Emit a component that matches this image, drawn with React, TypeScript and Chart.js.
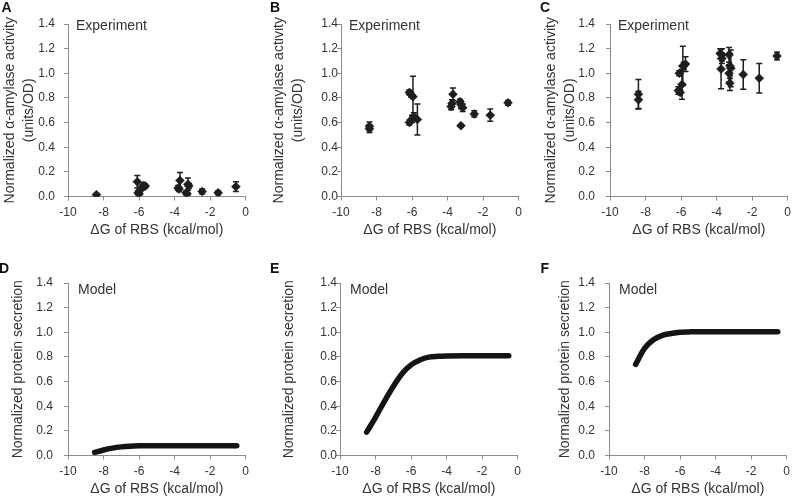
import React, { useEffect, useRef } from "react";
import { Chart, registerables } from "chart.js";

Chart.register(...registerables);

// ---------- data ----------
const xTicks = [-10, -8, -6, -4, -2, 0];
const yTicks = [0, 0.2, 0.4, 0.6, 0.8, 1.0, 1.2, 1.4];

// Panel A (experiment)
const aX = [-8.4, -6.1, -6.05, -6.0, -5.95, -5.85, -5.75, -5.65, -3.8, -3.75, -3.7, -3.35, -3.3, -3.25, -3.2, -2.45, -1.55, -0.55];
const aY = [0.015, 0.12, 0.03, 0.02, 0.05, 0.07, 0.09, 0.085, 0.07, 0.06, 0.13, 0.03, 0.02, 0.1, 0.085, 0.04, 0.03, 0.08];
const aErr = [0.01, 0.05, 0.015, 0.01, 0.02, 0.02, 0.02, 0.015, 0.02, 0.02, 0.065, 0.015, 0.01, 0.05, 0.02, 0.02, 0.015, 0.04];

// Panel B (experiment)
const bX = [-8.4, -8.4, -6.15, -6.05, -5.95, -6.15, -6.0, -5.9, -5.7, -3.7, -3.8, -3.75, -3.3, -3.25, -3.15, -3.25, -2.5, -1.6, -0.6];
const bY = [0.57, 0.55, 0.845, 0.825, 0.81, 0.6, 0.63, 0.65, 0.625, 0.83, 0.73, 0.755, 0.77, 0.745, 0.72, 0.575, 0.67, 0.66, 0.76];
const bErr = [0.035, 0.03, 0.02, 0.02, 0.165, 0.02, 0.03, 0.03, 0.125, 0.05, 0.025, 0.03, 0.02, 0.03, 0.03, 0.01, 0.025, 0.05, 0.02];

// Panel C (experiment)
const cX = [-8.4, -8.4, -6.1, -6.15, -6.05, -5.95, -5.9, -5.85, -5.75, -3.8, -3.7, -3.7, -3.75, -3.3, -3.25, -3.3, -3.25, -3.2, -2.5, -1.6, -0.6];
const cY = [0.83, 0.785, 1.0, 0.86, 0.845, 0.91, 1.06, 1.06, 1.075, 1.16, 1.15, 1.12, 1.035, 1.15, 1.06, 1.0, 0.92, 1.04, 0.99, 0.96, 1.14];
const cErr = [0.12, 0.07, 0.02, 0.03, 0.02, 0.12, 0.16, 0.03, 0.06, 0.04, 0.05, 0.04, 0.16, 0.06, 0.1, 0.07, 0.06, 0.15, 0.12, 0.12, 0.03];

// Panels D, E, F (model)
const modelX = [-8.5, -8, -7.5, -7, -6.5, -6, -5.5, -5, -4.5, -4, -3, -2, -1, -0.5];
const dY = [0.025, 0.045, 0.06, 0.07, 0.076, 0.079, 0.08, 0.08, 0.08, 0.08, 0.08, 0.08, 0.08, 0.08];
const eY = [0.19, 0.31, 0.44, 0.56, 0.665, 0.735, 0.775, 0.798, 0.805, 0.808, 0.81, 0.81, 0.81, 0.81];
const fY = [0.74, 0.87, 0.94, 0.975, 0.99, 1.0, 1.003, 1.005, 1.005, 1.005, 1.005, 1.005, 1.005, 1.005];

const expTitle = ["Normalized α-amylase activity", "(units/OD)"];
const modelTitle = "Normalized protein secretion";
const xTitle = "ΔG of RBS (kcal/mol)";

// ---------- styling ----------
const FONT = "'Liberation Sans', Arial, Helvetica, sans-serif";
const TEXT = "#333333";
const AXIS = "#8c8c8c";
const INK = "#1e1e1e";

const CW = 254;
const CH = 239;

type Panel = {
  letter: string;
  kind: "exp" | "model";
  x: number[];
  y: number[];
  err?: number[];
  left: number;
  top: number;
  letterLeft: number;
  letterTop: number;
  tickPad: number;
  titlePad: number;
};

const panels: Panel[] = [
  { letter: "A", kind: "exp", x: aX, y: aY, err: aErr, left: 0, top: 0, letterLeft: 1.5, letterTop: 0, tickPad: 9, titlePad: 0.5 },
  { letter: "B", kind: "exp", x: bX, y: bY, err: bErr, left: 273, top: 0, letterLeft: 270, letterTop: 0, tickPad: -1, titlePad: -3.5 },
  { letter: "C", kind: "exp", x: cX, y: cY, err: cErr, left: 542, top: 0, letterLeft: 540, letterTop: 0, tickPad: 11, titlePad: 0 },
  { letter: "D", kind: "model", x: modelX, y: dY, left: 0, top: 259, letterLeft: -1, letterTop: 260.5, tickPad: 11, titlePad: 9 },
  { letter: "E", kind: "model", x: modelX, y: eY, left: 272, top: 259, letterLeft: 270, letterTop: 260.5, tickPad: -1, titlePad: 8 },
  { letter: "F", kind: "model", x: modelX, y: fY, left: 541, top: 259, letterLeft: 540.5, letterTop: 260.5, tickPad: 10, titlePad: 14.5 },
];

const errorBarPlugin = {
  id: "errorBars",
  beforeDatasetsDraw(chart: any, _args: any, opts: any) {
    const errs: number[] | undefined = opts && opts.errors;
    if (!errs) return;
    const xs = chart.scales.x;
    const ys = chart.scales.y;
    const ds = chart.data.datasets[0];
    const ctx = chart.ctx;
    ctx.save();
    ctx.strokeStyle = INK;
    ctx.lineWidth = 1.5;
    ds.data.forEach((p: any, i: number) => {
      const e = errs[i];
      if (!e) return;
      const px = xs.getPixelForValue(p.x);
      const top = ys.getPixelForValue(p.y + e);
      const bot = ys.getPixelForValue(p.y - e);
      ctx.beginPath();
      ctx.moveTo(px, top);
      ctx.lineTo(px, bot);
      ctx.moveTo(px - 3, top);
      ctx.lineTo(px + 3, top);
      ctx.moveTo(px - 3, bot);
      ctx.lineTo(px + 3, bot);
      ctx.stroke();
    });
    ctx.restore();
  },
};

const panelTextPlugin = {
  id: "panelText",
  afterDraw(chart: any, _args: any, opts: any) {
    if (!opts || !opts.text) return;
    const ctx = chart.ctx;
    const a = chart.chartArea;
    ctx.save();
    ctx.font = `14px ${FONT}`;
    ctx.fillStyle = TEXT;
    ctx.textAlign = "left";
    ctx.textBaseline = "middle";
    ctx.fillText(opts.text, a.left + opts.dx, a.top + opts.dy);
    ctx.restore();
  },
};

function buildConfig(p: Panel): any {
  const pts = p.x.map((x, i) => ({ x, y: p.y[i] }));
  const dataset =
    p.kind === "exp"
      ? {
          type: "scatter",
          data: pts,
          pointStyle: "rectRot",
          pointRadius: 4.5,
          pointBackgroundColor: INK,
          pointBorderColor: INK,
          pointBorderWidth: 0.5,
          showLine: false,
        }
      : {
          type: "line",
          data: pts,
          borderColor: "#141414",
          borderWidth: 5.5,
          borderCapStyle: "round",
          borderJoinStyle: "round",
          pointRadius: 0,
          cubicInterpolationMode: "monotone",
          fill: false,
        };

  return {
    type: p.kind === "exp" ? "scatter" : "line",
    data: { datasets: [dataset] },
    options: {
      animation: false,
      responsive: false,
      devicePixelRatio: 1,
      layout: { padding: { left: 0, right: 6.5, top: 24, bottom: 0 } },
      plugins: {
        legend: { display: false },
        tooltip: { enabled: false },
        errorBars: { errors: p.err },
        panelText:
          p.kind === "exp"
            ? { text: "Experiment", dx: 8, dy: 2 }
            : { text: "Model", dx: 10, dy: 7 },
      },
      scales: {
        x: {
          type: "linear",
          min: -10,
          max: 0,
          afterBuildTicks: (s: any) => {
            s.ticks = xTicks.map((v) => ({ value: v }));
          },
          afterFit: (s: any) => {
            s.height = 42.5;
          },
          ticks: {
            callback: (v: any) => String(v),
            font: { family: FONT, size: 12 },
            color: TEXT,
            padding: 5,
            maxRotation: 0,
            autoSkip: false,
          },
          grid: { drawOnChartArea: false, drawTicks: true, tickLength: 4, color: AXIS, lineWidth: 1 },
          border: { color: AXIS, width: 1 },
          title: {
            display: true,
            text: xTitle,
            font: { family: FONT, size: 14 },
            color: TEXT,
            padding: { top: 0, bottom: 0 },
          },
        },
        y: {
          type: "linear",
          min: 0,
          max: 1.4,
          afterBuildTicks: (s: any) => {
            s.ticks = yTicks.map((v) => ({ value: v }));
          },
          afterFit: (s: any) => {
            s.width = 68;
          },
          ticks: {
            callback: (v: any) => Number(v).toFixed(1),
            font: { family: FONT, size: 12 },
            color: TEXT,
            padding: p.tickPad,
            autoSkip: false,
          },
          grid: { drawOnChartArea: false, drawTicks: true, tickLength: 4, color: AXIS, lineWidth: 1 },
          border: { color: AXIS, width: 1 },
          title: {
            display: true,
            text: p.kind === "exp" ? expTitle : modelTitle,
            font: { family: FONT, size: 14, lineHeight: 1.35 },
            color: TEXT,
            padding: { top: p.titlePad, bottom: 0 },
          },
        },
      },
    },
    plugins: [errorBarPlugin, panelTextPlugin],
  };
}

function PanelChart({ p }: { p: Panel }) {
  const ref = useRef<HTMLCanvasElement | null>(null);
  useEffect(() => {
    if (!ref.current) return;
    const chart = new Chart(ref.current, buildConfig(p));
    return () => chart.destroy();
  }, [p]);
  return (
    <div style={{ position: "absolute", left: p.left, top: p.top, width: CW, height: CH }}>
      <canvas ref={ref} width={CW} height={CH} style={{ width: CW, height: CH, display: "block" }} />
    </div>
  );
}

export default function App() {
  return (
    <div
      style={{
        position: "fixed",
        left: 0,
        top: 0,
        width: 792,
        height: 498,
        overflow: "hidden",
        background: "#ffffff",
        fontFamily: FONT,
      }}
    >
      {panels.map((p) => (
        <PanelChart key={p.letter} p={p} />
      ))}
      {panels.map((p) => (
        <div
          key={"l" + p.letter}
          style={{
            position: "absolute",
            left: p.letterLeft,
            top: p.letterTop,
            fontSize: 14,
            lineHeight: "14px",
            fontWeight: "bold",
            color: "#111",
            fontFamily: FONT,
          }}
        >
          {p.letter}
        </div>
      ))}
    </div>
  );
}
